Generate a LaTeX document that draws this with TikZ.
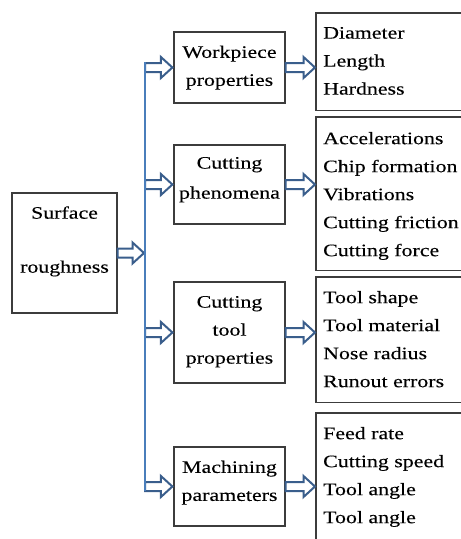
\documentclass[tikz,border=0pt]{standalone}
\usepackage{fontspec}
\setmainfont{Liberation Serif}[FakeStretch=1.25, FakeBold=0.2]
\usetikzlibrary{calc}
\definecolor{spineblue}{HTML}{4A7EBB}
\definecolor{arrowblue}{HTML}{3A5E8C}
\definecolor{boxline}{HTML}{3C3C3C}

\begin{document}
\begin{tikzpicture}[x=1pt,y=-1pt,
  box/.style={draw=boxline, line width=1.2pt, inner sep=0pt, align=center,
    font=\fontsize{17.5}{28}\selectfont},
  listbox/.style={inner sep=0pt, anchor=north west, minimum width=200pt},
  listedge/.style={draw=boxline, line width=1.2pt},
  listtext/.style={anchor=north west, inner sep=0pt, align=left,
    font=\fontsize{17.5}{28}\selectfont},
  barrow/.style={draw=arrowblue, line width=2pt, fill=white, line join=miter,
    to path={let \p1=(\tikztostart), \p2=(\tikztotarget) in
      (\x1,\y1+4.5pt) -- (\x2-12.5pt,\y1+4.5pt) -- (\x2-12.5pt,\y1+10.5pt) -- (\x2-1pt,\y1)
      -- (\x2-12.5pt,\y1-10.5pt) -- (\x2-12.5pt,\y1-4.5pt) -- (\x1,\y1-4.5pt) -- cycle}},
  spine/.style={draw=spineblue, line width=2.2pt}]

\useasboundingbox (0,0) rectangle (461,539);
\clip (0,0) rectangle (461,539);
\fill[white] (0,0) rectangle (461,539);

% cause
\node[box, minimum width=105, minimum height=120, text depth=27pt] (sr) at (64.5,253)
  {Surface\\[26pt]roughness};

% factor groups
\node[box, minimum width=111, minimum height=71, text depth=3.5pt] (wp) at (229.5,67.5)
  {Workpiece\\properties};
\node[box, minimum width=111, minimum height=79, text depth=13.4pt] (cp) at (229.5,184.5)
  {Cutting\\[2pt]phenomena};
\node[box, minimum width=111, minimum height=101, text depth=5.4pt] (ct) at (229.5,332.5)
  {Cutting\\tool\\properties};
\node[box, minimum width=111, minimum height=79, text depth=11.4pt] (mp) at (229.5,486.5)
  {Machining\\parameters};

% factor lists: frames run on past the right edge of the page
\node[listbox, minimum height=97] (r1) at (316,13) {};
\node[listbox, minimum height=153] (r2) at (316,117) {};
\node[listbox, minimum height=125] (r3) at (316,277) {};
\node[listbox, minimum height=140] (r4) at (316,413) {};
\foreach \r in {r1,r2,r3,r4}
  \draw[listedge] (\r.north east) -- (\r.north west) -- (\r.south west) -- (\r.south east);

\node[listtext] (t1) at (323,26.8) {Diameter\\Length\\Hardness};
\node[listtext] (t2) at (323,131.8) {Accelerations\\Chip formation\\Vibrations\\Cutting friction\\Cutting force};
\node[listtext] (t3) at (323,290.8) {Tool shape\\Tool material\\Nose radius\\Runout errors};
\node[listtext] (t4) at (323,426.8) {Feed rate\\Cutting speed\\Tool angle\\Tool angle};

% spine
\coordinate (spT) at (145,62);
\coordinate (spB) at (145,491);

% block arrows
\draw[barrow] (sr.east) to (sr.east -| spT);
\draw[barrow] (wp.west -| spT) to (wp.west);
\draw[barrow] (cp.west -| spT) to (cp.west);
\draw[barrow] (ct.west -| spT) to (ct.west);
\draw[barrow] (mp.west -| spT) to (mp.west);

\draw[barrow] (wp.east) to (wp.east -| r1.west);
\draw[barrow] (cp.east) to (cp.east -| r2.west);
\draw[barrow] (ct.east) to (ct.east -| r3.west);
\draw[barrow] (mp.east) to (mp.east -| r4.west);

\draw[spine] (spT) -- (spB);
\end{tikzpicture}
\end{document}
